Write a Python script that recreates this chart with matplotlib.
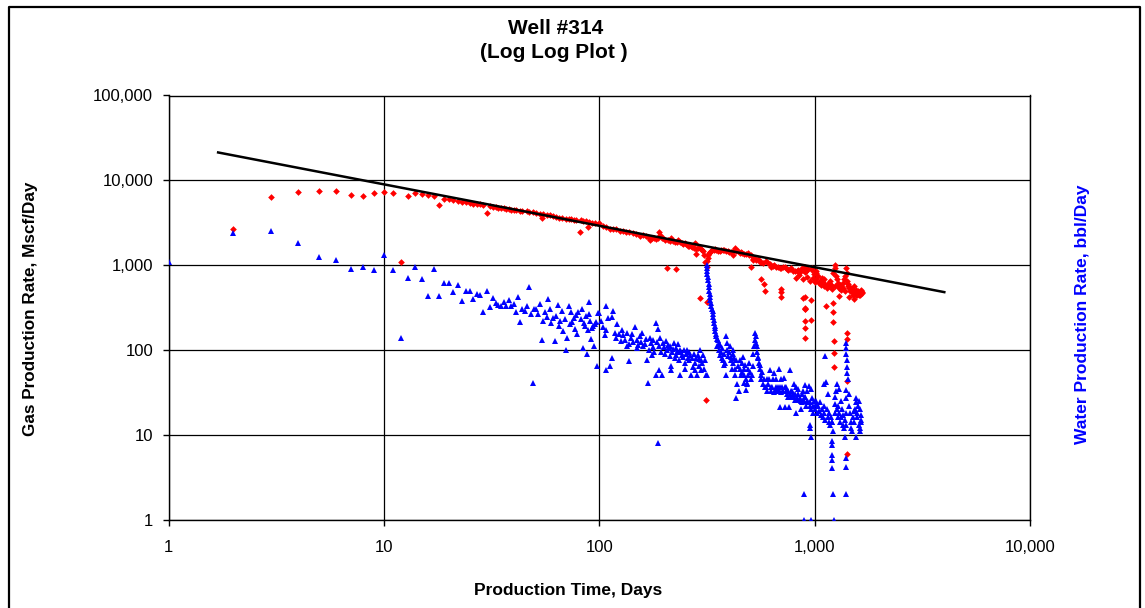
import numpy as np
import matplotlib.pyplot as plt
from matplotlib.ticker import FuncFormatter, LogLocator, NullLocator
from matplotlib.lines import Line2D

plt.rcParams['font.family'] = ['Liberation Sans', 'DejaVu Sans']

# gas rate, Mscf/Day, by production day
gas_days = [
    2, 3, 4, 5, 6, 7, 8, 9, 10, 11,
    12, 13, 14, 15, 16, 17, 18, 19, 20, 21,
    22, 23, 24, 25, 26, 27, 28, 29, 30, 31,
    32, 33, 34, 35, 36, 37, 38, 39, 40, 41,
    43, 44, 46, 47, 49, 51, 53, 54, 55, 57,
    59, 61, 63, 65, 67, 70, 72, 74, 76, 78,
    81, 82, 84, 87, 89, 90, 93, 96, 100, 104,
    108, 112, 116, 120, 125, 129, 133, 138, 143, 148,
    154, 160, 165, 169, 172, 176, 180, 184, 188, 190,
    191, 195, 198, 203, 207, 208, 212, 216, 220, 225,
    226, 229, 232, 236, 241, 245, 250, 254, 258, 262,
    266, 270, 274, 277, 280, 282, 286, 290, 294, 297,
    300, 304, 307, 310, 314, 316, 317, 318, 320, 321,
    323, 326, 330, 335, 340, 345, 350, 355, 362, 369,
    375, 380, 388, 395, 402, 410, 418, 420, 425, 432,
    440, 448, 455, 462, 470, 480, 490, 497, 505, 508,
    515, 520, 525, 535, 545, 555, 562, 565, 575, 583,
    587, 595, 605, 620, 630, 640, 650, 660, 675, 690,
    697, 698, 700, 700, 715, 730, 742, 755, 768, 780,
    795, 810, 820, 825, 840, 850, 855, 870, 880, 885,
    887, 899, 899, 900, 900, 900, 900, 900, 900, 900,
    910, 920, 930, 950, 967, 967, 970, 970, 980, 990,
    1000, 1010, 1010, 1020, 1040, 1050, 1060, 1070, 1080, 1090,
    1100, 1110, 1120, 1130, 1140, 1150, 1160, 1170, 1180, 1190,
    1200, 1210, 1220, 1222, 1222, 1222, 1230, 1230, 1230, 1240,
    1250, 1250, 1260, 1270, 1280, 1290, 1294, 1300, 1315, 1320,
    1330, 1350, 1360, 1370, 1380, 1390, 1400, 1409, 1409, 1409,
    1409, 1410, 1420, 1430, 1435, 1450, 1450, 1460, 1470, 1480,
    1490, 1500, 1505, 1520, 1520, 1530, 1540, 1550, 1560, 1575,
    1580, 1590, 1600, 1610, 1620, 1630, 1640, 1650, 1660, 1655,
]
gas_rate = [
    2700, 6300, 7200, 7400, 7400, 6800, 6600, 7000, 7300, 7050,
    1100, 6550, 7050, 6900, 6700, 6550, 5100, 6100, 5950, 5900,
    5750, 5600, 5500, 5370, 5300, 5250, 5200, 5100, 4100, 5000,
    4900, 4800, 4750, 4700, 4650, 4600, 4530, 4500, 4470, 4450,
    4400, 4370, 4300, 4250, 4180, 4120, 4050, 3620, 4000, 3950,
    3850, 3770, 3700, 3620, 3580, 3520, 3480, 3450, 3420, 3400,
    2450, 3360, 3300, 3270, 2850, 3230, 3150, 3120, 3100, 2900,
    2850, 2700, 2680, 2630, 2550, 2500, 2450, 2480, 2400, 2350,
    2200, 2280, 2200, 2150, 1980, 2100, 2080, 2050, 2070, 2480,
    2280, 2100, 2070, 2000, 920, 1980, 1950, 2070, 1900, 1880,
    890, 1850, 1980, 1850, 1820, 1780, 1820, 1750, 1680, 1700,
    1680, 1650, 1600, 1820, 1340, 1530, 1580, 1620, 410, 1550,
    1500, 1450, 1300, 1090, 26, 950, 370, 1130, 1200, 1300,
    1380, 1410, 1460, 1500, 1520, 1530, 1500, 1460, 1480, 1490,
    1500, 1490, 1480, 1460, 1440, 1410, 1450, 1330, 1600, 1450,
    1460, 1400, 1420, 1380, 1370, 1350, 1400, 1300, 1320, 950,
    1180, 1150, 1220, 1150, 1180, 1090, 690, 1080, 1050, 600,
    500, 1130, 1050, 1020, 950, 980, 1000, 960, 950, 930,
    525, 480, 920, 420, 940, 950, 900, 880, 900, 920,
    850, 850, 700, 860, 880, 760, 830, 920, 690, 870,
    410, 313, 300, 820, 950, 420, 305, 222, 182, 139,
    850, 720, 900, 650, 390, 226, 880, 920, 700, 780,
    640, 850, 800, 690, 740, 620, 650, 580, 700, 640,
    680, 560, 590, 325, 540, 600, 620, 560, 650, 590,
    560, 520, 800, 355, 280, 212, 129, 92, 63, 920,
    1000, 560, 740, 680, 580, 610, 427, 540, 580, 560,
    510, 610, 540, 680, 500, 740, 920, 157, 135, 43,
    6, 800, 650, 560, 600, 540, 420, 500, 520, 540,
    480, 450, 500, 560, 400, 480, 470, 440, 510, 450,
    470, 490, 460, 440, 480, 450, 510, 490, 470, 480,
]

# water rate, bbl/Day, by production day
water_days = [
    1, 2, 3, 4, 5, 6, 7, 8, 9, 10,
    11, 12, 13, 14, 15, 16, 17, 18, 19, 20,
    21, 22, 23, 24, 25, 26, 27, 28, 29, 30,
    31, 32, 33, 34, 35, 36, 37, 38, 39, 40,
    41, 42, 43, 44, 45, 46, 47, 48, 49, 50,
    51, 52, 53, 54, 55, 56, 57, 58, 59, 60,
    61, 62, 63, 64, 65, 66, 67, 68, 69, 70,
    71, 72, 73, 74, 75, 76, 77, 78, 79, 80,
    82, 83, 84, 85, 86, 87, 88, 89, 90, 90,
    91, 92, 93, 94, 95, 96, 97, 98, 99, 100,
    102, 104, 106, 108, 108, 108, 110, 112, 114, 114,
    116, 118, 119, 121, 124, 126, 127, 129, 131, 134,
    135, 137, 138, 140, 142, 144, 147, 149, 150, 152,
    154, 156, 158, 160, 163, 165, 167, 169, 170, 172,
    174, 175, 177, 178, 180, 183, 184, 186, 188, 188,
    189, 190, 192, 194, 196, 197, 199, 201, 204, 206,
    208, 210, 212, 214, 216, 216, 218, 220, 222, 224,
    226, 228, 230, 232, 234, 236, 238, 240, 242, 245,
    247, 249, 251, 253, 255, 257, 260, 262, 264, 267,
    270, 273, 275, 277, 279, 282, 284, 287, 290, 292,
    294, 296, 298, 300, 303, 306, 309, 312, 316, 316,
    317, 317, 318, 319, 321, 322, 324, 325, 326, 327,
    328, 330, 332, 334, 336, 337, 338, 340, 341, 343,
    344, 346, 348, 350, 352, 354, 356, 358, 360, 362,
    365, 368, 370, 373, 376, 378, 381, 384, 387, 387,
    390, 393, 396, 400, 405, 408, 411, 414, 416, 418,
    420, 423, 425, 428, 431, 433, 436, 440, 445, 448,
    452, 455, 458, 462, 465, 468, 470, 472, 475, 478,
    480, 483, 485, 488, 490, 495, 500, 505, 510, 515,
    520, 524, 528, 530, 533, 536, 538, 542, 545, 548,
    552, 555, 559, 562, 565, 570, 575, 581, 587, 593,
    598, 604, 610, 616, 620, 625, 630, 637, 643, 650,
    650, 655, 660, 665, 670, 675, 680, 685, 688, 690,
    695, 700, 705, 710, 718, 725, 730, 735, 739, 745,
    750, 755, 760, 765, 770, 775, 780, 789, 795, 800,
    800, 805, 810, 815, 820, 820, 828, 835, 840, 845,
    853, 860, 860, 870, 878, 880, 886, 890, 890, 895,
    900, 900, 905, 912, 920, 920, 930, 940, 948, 950,
    950, 955, 960, 960, 960, 965, 975, 980, 980, 990,
    1000, 1010, 1020, 1030, 1040, 1050, 1060, 1070, 1080, 1090,
    1100, 1100, 1110, 1120, 1120, 1130, 1140, 1150, 1150, 1160,
    1170, 1180, 1190, 1200, 1210, 1210, 1210, 1210, 1210, 1210,
    1220, 1220, 1230, 1240, 1250, 1250, 1260, 1270, 1270, 1280,
    1290, 1300, 1300, 1310, 1320, 1330, 1340, 1350, 1360, 1370,
    1380, 1390, 1400, 1400, 1400, 1400, 1400, 1400, 1400, 1400,
    1400, 1405, 1410, 1420, 1420, 1430, 1440, 1450, 1460, 1470,
    1480, 1490, 1500, 1520, 1540, 1560, 1560, 1575, 1590, 1600,
    1620, 1620, 1640, 1640, 1650, 1610, 1630, 1570, 1550, 1530,
]
water_rate = [
    1100, 2400, 2500, 1800, 1240, 1140, 890, 960, 880, 1330,
    880, 140, 700, 960, 680, 430, 900, 430, 620, 610,
    480, 590, 380, 490, 500, 400, 460, 440, 280, 500,
    320, 410, 360, 340, 325, 365, 325, 390, 325, 350,
    280, 420, 215, 300, 290, 330, 545, 265, 41, 305,
    300, 262, 350, 132, 220, 280, 245, 395, 300, 210,
    240, 128, 250, 335, 190, 222, 290, 165, 230, 100,
    140, 330, 200, 280, 215, 240, 175, 260, 155, 280,
    230, 305, 105, 210, 190, 250, 90, 170, 262, 365,
    220, 135, 180, 192, 110, 200, 215, 65, 270, 270,
    220, 185, 150, 330, 170, 58, 240, 65, 245, 80,
    290, 160, 138, 200, 155, 127, 170, 150, 130, 158,
    110, 74, 118, 140, 152, 125, 185, 130, 104, 115,
    145, 125, 158, 110, 118, 135, 75, 41, 100, 138,
    120, 86, 130, 108, 95, 205, 50, 125, 175, 8,
    58, 110, 138, 95, 50, 120, 108, 90, 128, 100,
    115, 104, 85, 110, 65, 58, 95, 102, 120, 80,
    88, 105, 95, 118, 75, 100, 50, 95, 88, 83,
    100, 70, 59, 90, 100, 80, 95, 77, 88, 50,
    80, 63, 90, 70, 58, 80, 50, 86, 65, 78,
    100, 77, 58, 70, 88, 60, 75, 50, 50, 920,
    1000, 850, 790, 720, 670, 600, 550, 500, 460, 420,
    390, 360, 325, 300, 290, 265, 245, 225, 208, 190,
    180, 165, 155, 145, 135, 110, 130, 120, 100, 115,
    86, 95, 105, 80, 77, 66, 90, 70, 145, 51,
    120, 100, 85, 95, 110, 75, 83, 60, 100, 90,
    70, 80, 60, 51, 75, 27, 40, 65, 33, 77,
    60, 50, 55, 70, 83, 60, 41, 50, 66, 45,
    34, 40, 41, 60, 50, 70, 55, 45, 51, 65,
    89, 110, 130, 160, 145, 120, 110, 95, 80, 83,
    70, 60, 66, 50, 45, 55, 40, 45, 37, 37,
    45, 33, 40, 45, 58, 37, 33, 37, 45, 53,
    32, 33, 37, 45, 33, 37, 60, 33, 21, 37,
    45, 32, 37, 33, 47, 37, 21, 33, 37, 30,
    33, 28, 21, 30, 58, 33, 28, 33, 30, 28,
    40, 28, 26, 30, 37, 18, 27, 30, 35, 26,
    27, 25, 20, 30, 24, 33, 26, 2, 1, 25,
    39, 28, 28, 22, 33, 25, 24, 38, 22, 13,
    12, 24, 9.5, 1, 35, 20, 27, 22, 18, 25,
    20, 23, 25, 18, 22, 19, 24, 17, 20, 16,
    40, 22, 18, 85, 15, 42, 20, 16, 30, 14,
    18, 13, 16, 14, 14, 8.4, 7.5, 5.8, 5, 4,
    11, 2, 1, 23, 18, 28, 33, 20, 40, 16,
    22, 18, 35, 14, 25, 16, 20, 13, 17, 12,
    15, 9.5, 105, 90, 34, 27, 18, 13, 5.3, 4.2,
    2, 120, 77, 63, 53, 45, 30, 22, 18, 14,
    12, 11, 16, 14, 20, 27, 9.5, 18, 22, 13,
    20, 11, 15, 14, 17, 25, 12, 16, 24, 19,
]

# decline trend line end points
trend_days = [1.7, 4000]
trend_rate = [21300, 480]

fig = plt.figure(figsize=(11.45, 6.08), dpi=100)
ax = fig.add_axes([168.5 / 1145, 1 - 519.5 / 608, (1030 - 168.5) / 1145, (519.5 - 95.5) / 608])

ax.plot(gas_days, gas_rate, linestyle='none', marker='D', markersize=3.4,
        color='#ff0000', markeredgewidth=0, zorder=3)
ax.plot(water_days, water_rate, linestyle='none', marker='^', markersize=4.8,
        color='#0000ff', markeredgewidth=0, zorder=3)
ax.plot(trend_days, trend_rate, color='black', linewidth=1.8, zorder=4)

ax.set_xscale('log')
ax.set_yscale('log')
ax.set_xlim(1, 10000)
ax.set_ylim(1, 100000)
ax.xaxis.set_major_locator(LogLocator(base=10, numticks=10))
ax.yaxis.set_major_locator(LogLocator(base=10, numticks=10))
ax.xaxis.set_minor_locator(NullLocator())
ax.yaxis.set_minor_locator(NullLocator())
fmt = FuncFormatter(lambda v, p: f'{v:,.0f}')
ax.xaxis.set_major_formatter(fmt)
ax.yaxis.set_major_formatter(fmt)
ax.tick_params(axis='both', direction='out', length=4, width=1, labelsize=12, colors='black')
ax.tick_params(axis='x', pad=11)
ax.tick_params(axis='y', pad=7)
ax.grid(True, which='major', color='black', linewidth=0.9)
for s in ax.spines.values():
    s.set_linewidth(1)
    s.set_color('black')

fig.text(556 / 1145, 1 - 28 / 608, 'Well #314', ha='center', va='center',
         fontsize=15, fontweight='bold')
fig.text(554 / 1145, 1 - 52 / 608, '(Log Log Plot )', ha='center', va='center',
         fontsize=15, fontweight='bold')
fig.text(568 / 1145, 1 - 590 / 608, 'Production Time, Days', ha='center', va='center',
         fontsize=12.5, fontweight='bold')
fig.text(31 / 1145, 1 - 309 / 608, 'Gas Production Rate, Mscf/Day', ha='center', va='center',
         rotation=90, fontsize=12.3, fontweight='bold')
fig.text(1083 / 1145, 1 - 314 / 608, 'Water Production Rate, bbl/Day', ha='center', va='center',
         rotation=90, fontsize=12.5, fontweight='bold', color='#0000ff')

# frame round the chart
x0, x1, y1 = 9 / 1145, 1140 / 1145, 1 - 7 / 608
fig.add_artist(Line2D([x0, x0, x1, x1], [0, y1, y1, 0], color='black', linewidth=1.6))

fig.savefig('out.png', dpi=100)
